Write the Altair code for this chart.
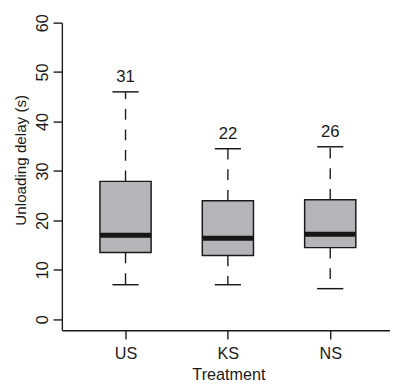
import altair as alt
import pandas as pd

treatments = ["US", "KS", "NS"]
lower_whisker = [7.0, 7.0, 6.2]
q1 = [13.5, 12.9, 14.5]
median = [17.0, 16.4, 17.2]
q3 = [27.9, 24.0, 24.2]
upper_whisker = [46.0, 34.5, 34.9]
n_labels = ["31", "22", "26"]

df = pd.DataFrame({
    "treatment": treatments,
    "pos": list(range(1, len(treatments) + 1)),
    "low": lower_whisker,
    "q1": q1,
    "med": median,
    "q3": q3,
    "high": upper_whisker,
    "n": n_labels,
})

DARK = "#1a1a1a"
FONT = "Liberation Sans"

xscale = alt.Scale(domain=[0.378, 3.584], nice=False, zero=False)
yscale = alt.Scale(domain=[-2.2, 60], nice=False, zero=False)

base = alt.Chart(df).transform_calculate(
    left="datum.pos - 0.25",
    right="datum.pos + 0.25",
    cl="datum.pos - 0.128",
    cr="datum.pos + 0.128",
)

x_axis = alt.Axis(
    values=[1, 2, 3],
    labelExpr="['', 'US', 'KS', 'NS'][datum.value]",
    title="Treatment",
    grid=False,
    tickSize=9,
    labelPadding=7,
    labelFontSize=16.5,
    labelBaseline="top",
    titleFontSize=16.5,
    titleFontWeight="normal",
    titleX=170,
    titleY=50,
    titleBaseline="alphabetic",
    titleAlign="center",
)
y_axis = alt.Axis(
    values=[0, 10, 20, 30, 40, 50, 60],
    title="Unloading delay (s)",
    grid=False,
    tickSize=9,
    labelPadding=3,
    labelAngle=270,
    labelAlign="center",
    labelBaseline="bottom",
    labelFontSize=16.5,
    titleFontSize=15.5,
    titleFontWeight="normal",
    titleAngle=270,
    titleX=-42,
    titleY=140,
    titleAlign="center",
    titleBaseline="middle",
)


def X(field):
    return alt.X(field, scale=xscale, axis=x_axis)


def Y(field):
    return alt.Y(field, scale=yscale, axis=y_axis)


whisk_up = base.mark_rule(color=DARK, strokeWidth=1.4, strokeDash=[11, 10]).encode(
    x=X("pos:Q"), y=Y("q3:Q"), y2="high:Q",
)
whisk_low = base.mark_rule(color=DARK, strokeWidth=1.4, strokeDash=[11, 10]).encode(
    x=X("pos:Q"), y=Y("q1:Q"), y2="low:Q",
)
cap_up = base.mark_rule(color=DARK, strokeWidth=1.5).encode(
    x=X("cl:Q"), x2="cr:Q", y=Y("high:Q"),
)
cap_low = base.mark_rule(color=DARK, strokeWidth=1.5).encode(
    x=X("cl:Q"), x2="cr:Q", y=Y("low:Q"),
)
box = base.mark_rect(fill="#b4b5b9", stroke=DARK, strokeWidth=1.5).encode(
    x=X("left:Q"), x2="right:Q", y=Y("q1:Q"), y2="q3:Q",
)
med = base.mark_rule(color="#161616", strokeWidth=5).encode(
    x=X("left:Q"), x2="right:Q", y=Y("med:Q"),
)
labels = base.mark_text(dy=-10, fontSize=17, baseline="alphabetic", align="center", color=DARK, font=FONT).encode(
    x=X("pos:Q"), y=Y("high:Q"), text="n:N",
)

chart = alt.layer(whisk_up, whisk_low, cap_up, cap_low, box, med, labels).properties(
    width=335,
    height=314,
    autosize=alt.AutoSizeParams(type="none"),
    padding={"left": 55, "top": 11, "right": 0, "bottom": 53},
).configure_view(stroke=None).configure_axis(
    domainColor=DARK,
    tickColor=DARK,
    labelColor=DARK,
    titleColor=DARK,
    domainWidth=1.4,
    tickWidth=1.4,
    labelFont=FONT,
    titleFont=FONT,
)

chart.save("out.html", embed_options={"renderer": "svg", "actions": False})
